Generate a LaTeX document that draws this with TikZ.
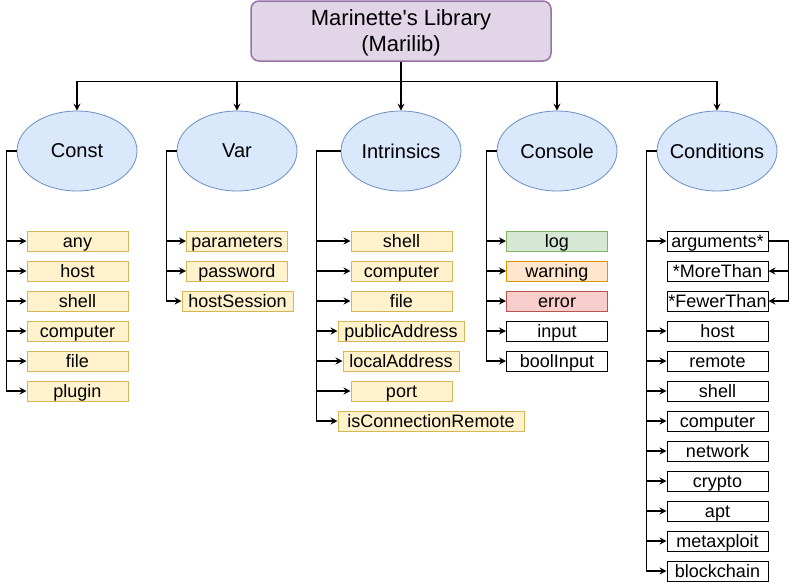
\documentclass[tikz,border=0pt]{standalone}
\usepackage{fontspec}
\newfontfamily\diofont{Liberation Sans}
\usetikzlibrary{shapes.geometric,arrows.meta}
\definecolor{libfill}{HTML}{E1D5E7}
\definecolor{libline}{HTML}{9673A6}
\definecolor{modfill}{HTML}{DAE8FC}
\definecolor{modline}{HTML}{6C8EBF}
\definecolor{itemfill}{HTML}{FFF2CC}
\definecolor{itemline}{HTML}{D6B656}
\definecolor{logfill}{HTML}{D5E8D4}
\definecolor{logline}{HTML}{82B366}
\definecolor{warnfill}{HTML}{FFE6CC}
\definecolor{warnline}{HTML}{D79B00}
\definecolor{errfill}{HTML}{F8CECC}
\definecolor{errline}{HTML}{B85450}
\begin{document}
\begin{tikzpicture}[x=1pt, y=-1pt,
  library/.style={draw=libline, fill=libfill, line width=1.5pt, rounded corners=8pt, minimum width=300pt, minimum height=60pt, inner sep=0pt, align=center, text depth=0pt, font={\diofont\fontsize{22}{26}\selectfont}},
  module/.style={draw=modline, fill=modfill, ellipse, minimum width=120pt, minimum height=80pt, inner ysep=0pt, inner xsep=-10pt, line width=0.8pt, font={\diofont\fontsize{20}{24}\selectfont}},
  item/.style={draw=itemline, fill=itemfill, minimum width=101pt, minimum height=20pt, inner sep=0pt, text height=15pt, text depth=2.4pt, line width=1pt, font={\diofont\fontsize{18}{20}\selectfont}},
  plain/.style={item, draw=black, fill=white},
  link/.style={-{Stealth[length=7pt,width=7pt,inset=2.5pt]}, line width=1.2pt}]
\useasboundingbox (0,0) rectangle (796,582);

\node (lib) at (401,31) [library] {Marinette's Library\\(Marilib)};

\node (const) at (77,151) [module] {Const};
\node (var) at (237,151) [module] {Var};
\node (intr) at (401,151) [module] {Intrinsics};
\node (cons) at (557,151) [module] {Console};
\node (cond) at (717,151) [module] {Conditions};

\draw[link] (lib.south) -- ++(0,20) -| (const);
\draw[link] (lib.south) -- ++(0,20) -| (var);
\draw[link] (lib.south) -- (intr);
\draw[link] (lib.south) -- ++(0,20) -| (cons);
\draw[link] (lib.south) -- ++(0,20) -| (cond);

% Const
\node (c1) at (77.5,241) [item] {any};
\node (c2) at (77.5,271) [item] {host};
\node (c3) at (77.5,301) [item] {shell};
\node (c4) at (77.5,331) [item] {computer};
\node (c5) at (77.5,361) [item] {file};
\node (c6) at (77.5,391) [item] {plugin};

\draw[link] (const.west) -- ++(-10,0) |- (c1);
\draw[link] (const.west) -- ++(-10,0) |- (c2);
\draw[link] (const.west) -- ++(-10,0) |- (c3);
\draw[link] (const.west) -- ++(-10,0) |- (c4);
\draw[link] (const.west) -- ++(-10,0) |- (c5);
\draw[link] (const.west) -- ++(-10,0) |- (c6);

% Var
\node (v1) at (237,241) [item] {parameters};
\node (v2) at (237,271) [item] {password};
\node (v3) at (237.5,301) [item, minimum width=111pt] {hostSession};

\draw[link] (var.west) -- ++(-10,0) |- (v1);
\draw[link] (var.west) -- ++(-10,0) |- (v2);
\draw[link] (var.west) -- ++(-10,0) |- (v3);

% Intrinsics
\node (i1) at (401.5,241) [item] {shell};
\node (i2) at (401.5,271) [item] {computer};
\node (i3) at (401.5,301) [item] {file};
\node (i4) at (401,331) [item, minimum width=126pt] {publicAddress};
\node (i5) at (401,361) [item, minimum width=116pt] {localAddress};
\node (i6) at (401.5,391) [item] {port};
\node (i7) at (431,421) [item, minimum width=186pt] {isConnectionRemote};

\draw[link] (intr.west) -- ++(-24,0) |- (i1);
\draw[link] (intr.west) -- ++(-24,0) |- (i2);
\draw[link] (intr.west) -- ++(-24,0) |- (i3);
\draw[link] (intr.west) -- ++(-24,0) |- (i4);
\draw[link] (intr.west) -- ++(-24,0) |- (i5);
\draw[link] (intr.west) -- ++(-24,0) |- (i6);
\draw[link] (intr.west) -- ++(-24,0) |- (i7);

% Console
\node (k1) at (557,241) [item, draw=logline, fill=logfill] {log};
\node (k2) at (557,271) [item, draw=warnline, fill=warnfill] {warning};
\node (k3) at (557,301) [item, draw=errline, fill=errfill] {error};
\node (k4) at (557,331) [plain] {input};
\node (k5) at (557,361) [plain] {boolInput};

\draw[link] (cons.west) -- ++(-10,0) |- (k1);
\draw[link] (cons.west) -- ++(-10,0) |- (k2);
\draw[link] (cons.west) -- ++(-10,0) |- (k3);
\draw[link] (cons.west) -- ++(-10,0) |- (k4);
\draw[link] (cons.west) -- ++(-10,0) |- (k5);

% Conditions
\node (d1) at (717.5,241) [plain] {arguments*};
\node (d2) at (717.5,271) [plain] {*MoreThan};
\node (d3) at (717.5,301) [plain] {*FewerThan};
\node (d4) at (717.5,331) [plain] {host};
\node (d5) at (717.5,361) [plain] {remote};
\node (d6) at (717.5,391) [plain] {shell};
\node (d7) at (717.5,421) [plain] {computer};
\node (d8) at (717.5,451) [plain] {network};
\node (d9) at (717.5,481) [plain] {crypto};
\node (d10) at (717.5,511) [plain] {apt};
\node (d11) at (717.5,541) [plain] {metaxploit};
\node (d12) at (717.5,571) [plain] {blockchain};

\draw[link] (cond.west) -- ++(-10,0) |- (d1);
\draw[link] (cond.west) -- ++(-10,0) |- (d4);
\draw[link] (cond.west) -- ++(-10,0) |- (d5);
\draw[link] (cond.west) -- ++(-10,0) |- (d6);
\draw[link] (cond.west) -- ++(-10,0) |- (d7);
\draw[link] (cond.west) -- ++(-10,0) |- (d8);
\draw[link] (cond.west) -- ++(-10,0) |- (d9);
\draw[link] (cond.west) -- ++(-10,0) |- (d10);
\draw[link] (cond.west) -- ++(-10,0) |- (d11);
\draw[link] (cond.west) -- ++(-10,0) |- (d12);
\draw[link] (d1.east) -- ++(20,0) |- (d2);
\draw[link] (d1.east) -- ++(20,0) |- (d3);
\end{tikzpicture}
\end{document}
